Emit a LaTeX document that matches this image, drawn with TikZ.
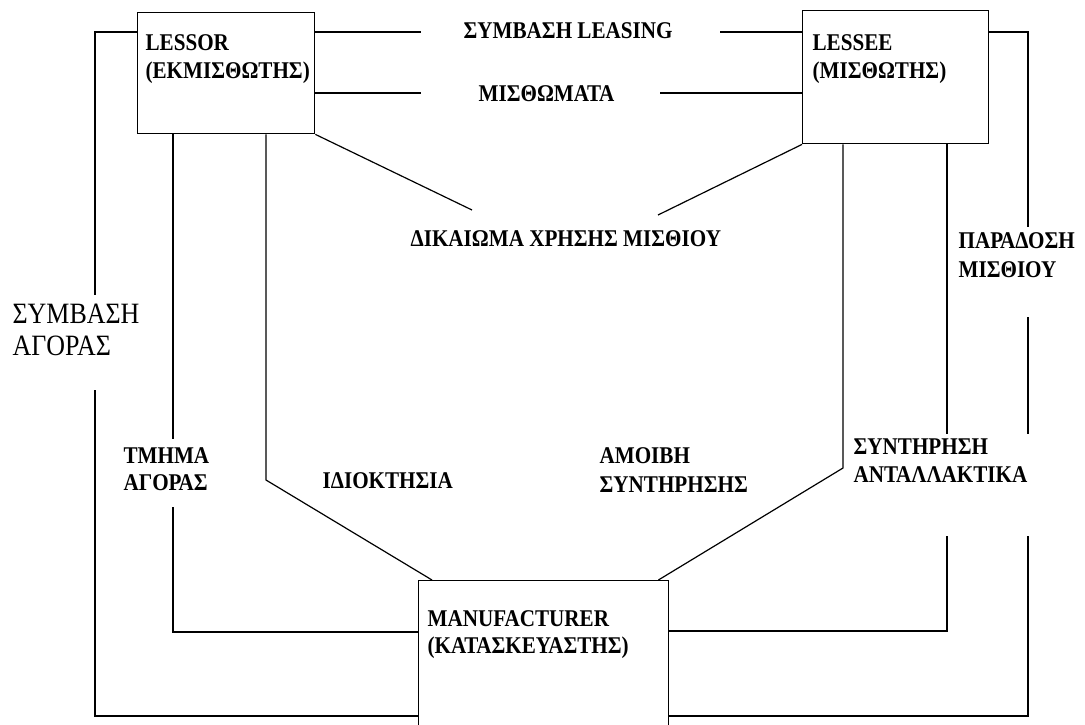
\documentclass[tikz,border=0pt]{standalone}
\usepackage{fontspec}
\setmainfont{Liberation Serif}
\newfontfamily\lblfont[FakeStretch=0.88]{Liberation Serif}
\begin{document}
\begin{tikzpicture}[x=1pt,y=-1pt,line width=1.2pt,
  box/.style={draw,line width=1.4pt,anchor=north west,inner sep=0pt},
  lbl/.style={font=\lblfont\bfseries\fontsize{24}{28}\selectfont,anchor=base west,inner sep=0pt},
  big/.style={font=\lblfont\fontsize{29.5}{34}\selectfont,anchor=base west,inner sep=0pt}]
\useasboundingbox (0,0) rectangle (1085,724);
\clip (0,0) rectangle (1085,724);
% boxes
\node[box,minimum width=177pt,minimum height=121pt] (lessor) at (137,12) {};
\node[box,minimum width=186pt,minimum height=133pt] (lessee) at (802,10) {};
\node[box,minimum width=250pt,minimum height=180pt] (manuf) at (418,580) {};
% box texts
\node[lbl] (t1a) at (145,50) {LESSOR};
\node[lbl] (t1b) at (145,78) {(ΕΚΜΙΣΘΩΤΗΣ)};
\node[lbl] (t2a) at (812,50) {LESSEE};
\node[lbl] (t2b) at (812,78) {(ΜΙΣΘΩΤΗΣ)};
\node[lbl] (t3a) at (427,626) {MANUFACTURER};
\node[lbl] (t3b) at (427,653) {(ΚΑΤΑΣΚΕΥΑΣΤΗΣ)};
% labels
\node[lbl] (leasing) at (463,38) {ΣΥΜΒΑΣΗ LEASING};
\node[lbl] (misth) at (478,101) {ΜΙΣΘΩΜΑΤΑ};
\node[lbl] (dikaioma) at (410,246) {ΔΙΚΑΙΩΜΑ ΧΡΗΣΗΣ ΜΙΣΘΙΟΥ};
\node[lbl] (parad1) at (958,248) {ΠΑΡΑΔΟΣΗ};
\node[lbl] (parad2) at (958,277) {ΜΙΣΘΙΟΥ};
\node[big] (agora1) at (12,323) {ΣΥΜΒΑΣΗ};
\node[big] (agora2) at (12,355) {ΑΓΟΡΑΣ};
\node[lbl] (tmima1) at (123,463) {ΤΜΗΜΑ};
\node[lbl] (tmima2) at (123,490) {ΑΓΟΡΑΣ};
\node[lbl] (idiokt) at (322,488) {ΙΔΙΟΚΤΗΣΙΑ};
\node[lbl] (amoivi1) at (599,463) {ΑΜΟΙΒΗ};
\node[lbl] (amoivi2) at (599,492) {ΣΥΝΤΗΡΗΣΗΣ};
\node[lbl] (synt1) at (853,454) {ΣΥΝΤΗΡΗΣΗ};
\node[lbl] (synt2) at (853,482) {ΑΝΤΑΛΛΑΚΤΙΚΑ};
% coordinates (free ends)
\coordinate (g1) at (421,32);
\coordinate (g2) at (720,32);
\coordinate (g3) at (421,93);
\coordinate (g4) at (660,93);
\coordinate (d1) at (472,210);
\coordinate (d2) at (658,215);
\coordinate (a1) at (173,439);
\coordinate (a2) at (173,507);
\coordinate (a3) at (173,632);
\coordinate (b1) at (266,480);
\coordinate (o0) at (95,32);
\coordinate (o1) at (95,295);
\coordinate (o2) at (95,390);
\coordinate (o3) at (95,716);
\coordinate (r0) at (1028,32);
\coordinate (r1) at (1028,227);
\coordinate (r2) at (1028,317);
\coordinate (r3) at (1028,434);
\coordinate (r4) at (1028,536);
\coordinate (r5) at (1028,716);
\coordinate (s1) at (947,434);
\coordinate (s2) at (947,536);
\coordinate (s3) at (947,631);
\coordinate (u1) at (843,468);
% top connectors
\draw (g1 -| lessor.east) -- (g1);
\draw (g2) -- (g2 -| lessee.west);
\draw (g3 -| lessor.east) -- (g3);
\draw (g4) -- (g4 -| lessee.west);
% diagonals to ΔΙΚΑΙΩΜΑ
\draw (lessor.south east) -- (d1);
\draw (lessee.south west) -- (d2);
% lessor verticals
\draw (a1 |- lessor.south) -- (a1);
\draw (a2) -- (a3) -- (a3 -| manuf.west);
\draw (b1 |- lessor.south) -- (b1) -- ([xshift=14pt]manuf.north west);
% left outer
\draw (o0 -| lessor.west) -- (o0) -- (o1);
\draw (o2) -- (o3) -- (o3 -| manuf.west);
% right outer
\draw (r0 -| lessee.east) -- (r0) -- (r1);
\draw (r2) -- (r3);
\draw (r4) -- (r5) -- (r5 -| manuf.east);
% lessee verticals
\draw (s1 |- lessee.south) -- (s1);
\draw (s2) -- (s3) -- (s3 -| manuf.east);
\draw (u1 |- lessee.south) -- (u1) -- ([xshift=-11pt]manuf.north east);
\end{tikzpicture}
\end{document}
